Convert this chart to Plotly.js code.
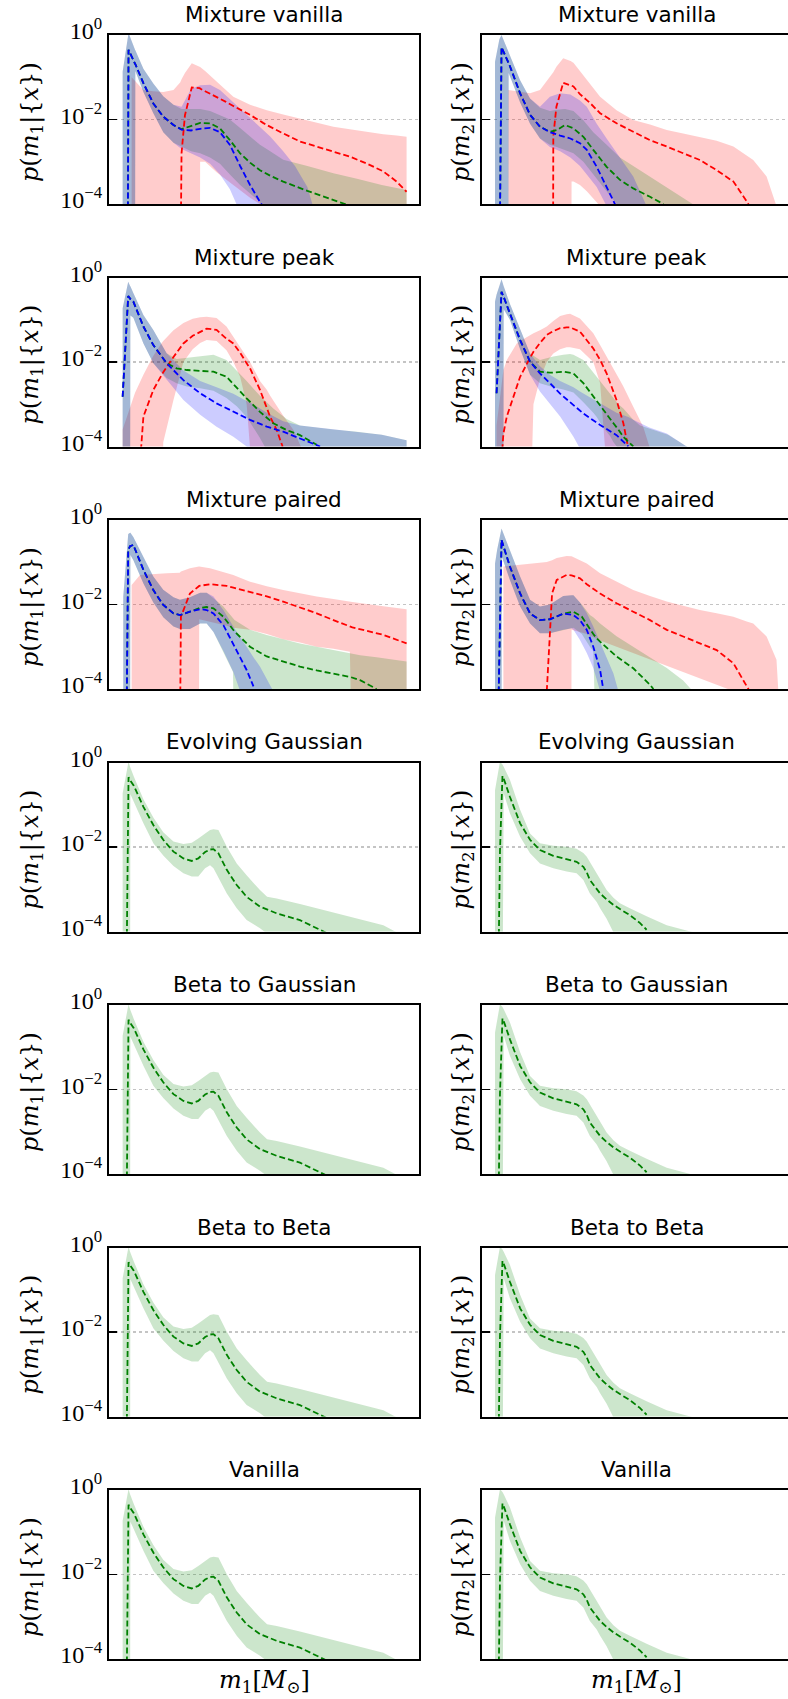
<!DOCTYPE html>
<html>
<head>
<meta charset="utf-8">
<script src="https://cdn.plot.ly/plotly-3.0.1.min.js"></script>
<style>
html, body { margin: 0; padding: 0; background: #ffffff; }
#chart { width: 788px; height: 1699px; }
</style>
</head>
<body>
<div id="chart"></div>
<script>
// ---------------- text ----------------
const panelTitles = ['Mixture vanilla', 'Mixture peak', 'Mixture paired', 'Evolving Gaussian', 'Beta to Gaussian', 'Beta to Beta', 'Vanilla'];
const yTickVals = [1e-4, 1e-2, 1];
const yTickText = ['10<sup>\u22124</sup>', '10<sup>\u22122</sup>', '10<sup>0</sup>'];
const yLabelLeft = '<i>p</i>(<i>m</i><sub>1</sub>|{<i>x</i>})';
const yLabelRight = '<i>p</i>(<i>m</i><sub>2</sub>|{<i>x</i>})';
const xLabel = '<i>m</i><sub>1</sub>[<i>M</i><sub>\u2299</sub>]';

// ---------------- data (x in solar masses, densities) ----------------
// Mixture vanilla, m1
const vanL_g_x = [4.4, 6.0, 6.3, 8.4, 8.5, 11.1, 14.3, 17.5, 20.8, 23.4, 26.5, 29.4, 32.6, 35.8, 39.0, 42.3, 45.5, 48.7, 52.0, 56.2, 64.0, 72.4, 80.0, 88.0, 96.0];
const vanL_g_med = [null, 1e-6, 0.447, 0.209, 0.204, 0.724e-1, 0.240e-1, 0.117e-1, 0.741e-2, 0.589e-2, 0.708e-2, 0.832e-2, 0.813e-2, 0.617e-2, 0.324e-2, 0.158e-2, 0.955e-3, 0.631e-3, 0.468e-3, 0.339e-3, 0.204e-3, 0.123e-3, 0.794e-4, null, null];
const vanL_g_hi = [0.135, 0.794, 1.12, 0.447, 0.437, 0.158, 0.708e-1, 0.355e-1, 0.224e-1, 0.178e-1, 0.178e-1, 0.178e-1, 0.158e-1, 0.126e-1, 0.1e-1, 0.631e-2, 0.398e-2, 0.251e-2, 0.178e-2, 0.112e-2, 0.794e-3, 0.537e-3, 0.398e-3, 0.282e-3, 0.214e-3];
const vanL_g_lo = [1e-6, 1e-6, 1e-6, 1e-6, 0.141, 0.447e-1, 0.141e-1, 0.501e-2, 0.282e-2, 0.224e-2, 0.178e-2, 0.158e-2, 0.126e-2, 0.891e-3, 0.501e-3, 0.282e-3, 0.178e-3, 0.112e-3, 1e-6, 1e-6, 1e-6, 1e-6, 1e-6, 1e-6, 1e-6];

const vanL_b_x = [4.4, 6.0, 6.3, 8.4, 8.5, 11.1, 14.3, 17.5, 20.8, 23.4, 26.5, 29.4, 32.6, 35.8, 39.0, 42.3, 45.5, 48.7, 52.0, 56.2, 60.0, 64.0, 66.0];
const vanL_b_med = [null, 1e-6, 0.447, 0.209, 0.204, 0.724e-1, 0.240e-1, 0.117e-1, 0.741e-2, 0.575e-2, 0.550e-2, 0.603e-2, 0.631e-2, 0.501e-2, 0.251e-2, 0.794e-3, 0.282e-3, 0.112e-3, 0.501e-4, null, null, null, null];
const vanL_b_hi = [0.135, 0.794, 1.12, 0.447, 0.437, 0.158, 0.708e-1, 0.355e-1, 0.224e-1, 0.2e-1, 0.537e-1, 0.646e-1, 0.661e-1, 0.501e-1, 0.302e-1, 0.178e-1, 0.112e-1, 0.676e-2, 0.398e-2, 0.178e-2, 0.794e-3, 0.251e-3, 0.794e-4];
const vanL_b_lo = [1e-6, 1e-6, 1e-6, 1e-6, 0.141, 0.447e-1, 0.141e-1, 0.501e-2, 0.282e-2, 0.2e-2, 0.158e-2, 0.126e-2, 0.891e-3, 0.501e-3, 0.224e-3, 0.631e-4, 1e-6, 1e-6, 1e-6, 1e-6, 1e-6, 1e-6, 1e-6];

const vanL_r_x = [7.3, 11.1, 14.3, 17.5, 20.8, 23.0, 23.4, 24.5, 26.7, 29.3, 29.4, 31.0, 34.7, 37.4, 40.1, 45.5, 49.7, 50.9, 56.2, 61.6, 67.0, 72.4, 77.7, 83.1, 88.5, 92.8, 96.0];
const vanL_r_med = [null, null, null, null, null, 1e-6, 0.158e-2, 0.126e-1, 0.575e-1, 0.550e-1, 0.537e-1, 0.468e-1, 0.347e-1, 0.269e-1, 0.209e-1, 0.129e-1, 0.832e-2, 0.741e-2, 0.468e-2, 0.302e-2, 0.229e-2, 0.174e-2, 0.132e-2, 0.912e-3, 0.589e-3, 0.339e-3, 0.195e-3];
const vanL_r_hi = [0.1, 0.501e-1, 0.468e-1, 0.447e-1, 0.501e-1, 0.759e-1, 0.891e-1, 0.126, 0.214, 0.178, 0.174, 0.141, 0.794e-1, 0.501e-1, 0.347e-1, 0.224e-1, 0.174e-1, 0.166e-1, 0.132e-1, 0.107e-1, 0.832e-2, 0.676e-2, 0.589e-2, 0.513e-2, 0.447e-2, 0.417e-2, 0.389e-2];
const vanL_r_lo = [1e-6, 1e-6, 1e-6, 1e-6, 1e-6, 1e-6, 1e-6, 1e-6, 1e-6, 1e-6, 1e-3, 1e-3, 0.562e-3, 0.407e-3, 0.282e-3, 0.141e-3, 0.891e-4, 1e-6, 1e-6, 1e-6, 1e-6, 1e-6, 1e-6, 1e-6, 1e-6, 1e-6, 1e-6];

// Mixture vanilla, m2
const vanR_g_x = [4.2, 5.6, 6.3, 8.5, 8.6, 12.3, 15.5, 18.7, 21.9, 24.1, 26.8, 29.5, 32.7, 35.9, 40.2, 44.5, 48.8, 54.2, 58.5, 65.0, 69.0];
const vanR_g_med = [null, 1e-6, 0.513, 0.224, 0.219, 0.417e-1, 0.129e-1, 0.676e-2, 0.513e-2, 0.562e-2, 0.741e-2, 0.617e-2, 0.389e-2, 0.191e-2, 0.759e-3, 0.372e-3, 0.234e-3, 0.148e-3, 1e-4, null, null];
const vanR_g_hi = [0.234, 0.794, 1.0, 0.398, 0.389, 0.851e-1, 0.316e-1, 0.191e-1, 0.158e-1, 0.170e-1, 0.178e-1, 0.158e-1, 0.955e-2, 0.501e-2, 0.251e-2, 0.126e-2, 0.794e-3, 0.447e-3, 0.282e-3, 0.141e-3, 0.891e-4];
const vanR_g_lo = [1e-6, 1e-6, 1e-6, 1e-6, 0.126, 0.251e-1, 0.794e-2, 0.355e-2, 0.251e-2, 0.224e-2, 0.191e-2, 0.158e-2, 1e-3, 0.501e-3, 0.2e-3, 0.794e-4, 1e-6, 1e-6, 1e-6, 1e-6, 1e-6];

const vanR_b_x = [4.2, 5.6, 6.3, 8.5, 8.6, 12.3, 15.5, 18.7, 21.9, 25.2, 28.5, 31.6, 33.8, 37.0, 40.2, 43.0, 45.0, 48.8, 53.1];
const vanR_b_med = [null, 1e-6, 0.513, 0.224, 0.219, 0.417e-1, 0.129e-1, 0.676e-2, 0.501e-2, 0.417e-2, 0.355e-2, 0.275e-2, 0.191e-2, 0.759e-3, 0.257e-3, 0.955e-4, null, null, null];
const vanR_b_hi = [0.234, 0.794, 1.0, 0.398, 0.389, 0.851e-1, 0.316e-1, 0.2e-1, 0.347e-1, 0.417e-1, 0.389e-1, 0.282e-1, 0.2e-1, 0.794e-2, 0.355e-2, 0.174e-2, 0.112e-2, 0.447e-3, 0.891e-4];
const vanR_b_lo = [1e-6, 1e-6, 1e-6, 1e-6, 0.126, 0.251e-1, 0.794e-2, 0.355e-2, 0.224e-2, 0.178e-2, 0.126e-2, 0.794e-3, 0.501e-3, 0.251e-3, 0.891e-4, 1e-6, 1e-6, 1e-6, 1e-6];

const vanR_r_x = [8.5, 12.3, 15.5, 18.7, 21.9, 22.9, 23.0, 24.0, 26.2, 28.8, 28.9, 29.5, 31.6, 33.8, 35.0, 38.1, 43.4, 48.8, 54.2, 59.6, 64.9, 70.3, 75.7, 81.1, 85.4, 87.5, 91.8, 95.0];
const vanR_r_med = [null, null, null, null, null, 1e-6, 0.398e-2, 0.2e-1, 0.741e-1, 0.631e-1, 0.631e-1, 0.603e-1, 0.398e-1, 0.288e-1, 0.240e-1, 0.141e-1, 0.813e-2, 0.513e-2, 0.324e-2, 0.229e-2, 0.158e-2, 0.110e-2, 0.631e-3, 0.339e-3, 0.115e-3, 0.631e-4, null, null];
const vanR_r_hi = [0.501e-1, 0.447e-1, 0.417e-1, 0.501e-1, 0.1, 0.126, 0.132, 0.178, 0.282, 0.240, 0.234, 0.219, 0.141, 0.891e-1, 0.708e-1, 0.347e-1, 0.166e-1, 0.977e-2, 0.759e-2, 0.562e-2, 0.468e-2, 0.389e-2, 0.316e-2, 0.229e-2, 0.141e-2, 0.110e-2, 0.447e-3, 0.891e-4];
const vanR_r_lo = [1e-6, 1e-6, 1e-6, 1e-6, 1e-6, 1e-6, 1e-6, 1e-6, 1e-6, 1e-6, 0.339e-3, 0.339e-3, 0.282e-3, 0.2e-3, 0.158e-3, 0.891e-4, 1e-6, 1e-6, 1e-6, 1e-6, 1e-6, 1e-6, 1e-6, 1e-6, 1e-6, 1e-6, 1e-6, 1e-6];

// Mixture peak, m1
const peakL_b_x = [4.4, 6.2, 6.8, 6.9, 7.85, 11.1, 14.3, 18.6, 24.0, 29.4, 34.7, 40.1, 44.4, 45.5, 50.9, 56.2, 61.6, 68.1, 72.4, 80.0, 88.0, 96.0];
const peakL_b_med = [0.151e-2, 0.363, 0.316, 0.309, 0.269, 0.692e-1, 0.251e-1, 0.933e-2, 0.372e-2, 0.182e-2, 0.105e-2, 0.661e-3, 0.457e-3, 0.427e-3, 0.295e-3, 0.224e-3, 0.155e-3, 1e-4, null, null, null, null];
const peakL_b_hi = [0.186, 0.794, 0.631, 0.617, 0.427, 0.129, 0.575e-1, 0.162e-1, 0.631e-2, 0.355e-2, 0.251e-2, 0.178e-2, 0.120e-2, 0.112e-2, 0.631e-3, 0.398e-3, 0.316e-3, 0.282e-3, 0.251e-3, 0.224e-3, 0.191e-3, 0.141e-3];
const peakL_b_lo = [1e-6, 1e-6, 1e-6, 0.126, 0.112, 0.275e-1, 0.933e-2, 0.372e-2, 0.126e-2, 0.562e-3, 0.295e-3, 0.170e-3, 1e-4, 1e-6, 1e-6, 1e-6, 1e-6, 1e-6, 1e-6, 1e-6, 1e-6, 1e-6];

const peakL_g_x = [4.4, 6.2, 6.8, 6.9, 7.85, 11.1, 14.3, 18.6, 21.8, 25.1, 29.4, 33.7, 37.9, 41.2, 44.4, 48.7, 51.0, 53.0, 57.3, 61.6, 67.0, 72.4, 80.0, 88.0, 96.0];
const peakL_g_med = [0.151e-2, 0.363, 0.316, 0.309, 0.269, 0.692e-1, 0.251e-1, 0.933e-2, 0.708e-2, 0.646e-2, 0.617e-2, 0.589e-2, 0.447e-2, 0.240e-2, 0.138e-2, 0.661e-3, 0.468e-3, 0.355e-3, 0.245e-3, 0.186e-3, 0.110e-3, null, null, null, null];
const peakL_g_hi = [0.186, 0.794, 0.631, 0.617, 0.427, 0.129, 0.575e-1, 0.162e-1, 0.117e-1, 0.126e-1, 0.138e-1, 0.148e-1, 0.112e-1, 0.631e-2, 0.355e-2, 0.158e-2, 0.112e-2, 0.794e-3, 0.447e-3, 0.316e-3, 0.282e-3, 0.251e-3, 0.224e-3, 0.191e-3, 0.141e-3];
const peakL_g_lo = [1e-6, 1e-6, 1e-6, 0.126, 0.112, 0.275e-1, 0.933e-2, 0.417e-2, 0.316e-2, 0.263e-2, 0.240e-2, 0.209e-2, 0.141e-2, 0.891e-3, 0.501e-3, 0.158e-3, 0.794e-4, 1e-6, 1e-6, 1e-6, 1e-6, 1e-6, 1e-6, 1e-6, 1e-6];

const peakL_r_x = [4.4, 8.4, 11.1, 14.3, 17.0, 17.5, 20.8, 24.0, 27.0, 29.4, 31.5, 34.7, 37.9, 40.1, 42.3, 44.4, 45.5, 48.7, 50.9, 52.0, 54.1, 56.0, 59.5, 62.2];
const peakL_r_med = [null, 1e-6, 0.513e-3, 0.219e-2, 0.501e-2, 0.575e-2, 0.132e-1, 0.275e-1, 0.417e-1, 0.525e-1, 0.617e-1, 0.575e-1, 0.355e-1, 0.275e-1, 0.166e-1, 0.933e-2, 0.708e-2, 0.219e-2, 0.871e-3, 0.501e-3, 0.245e-3, 1e-4, null, null];
const peakL_r_hi = [0.251e-3, 0.186e-2, 0.501e-2, 0.141e-1, 0.282e-1, 0.316e-1, 0.562e-1, 0.832e-1, 0.105, 0.115, 0.117, 0.110, 0.692e-1, 0.398e-1, 0.229e-1, 0.126e-1, 0.1e-1, 0.355e-2, 0.219e-2, 0.158e-2, 0.891e-3, 0.562e-3, 0.245e-3, 0.891e-4];
const peakL_r_lo = [1e-6, 1e-6, 1e-6, 1e-6, 1e-6, 0.126e-3, 0.126e-2, 0.1e-1, 0.2e-1, 0.282e-1, 0.331e-1, 0.316e-1, 0.191e-1, 0.1e-1, 0.447e-2, 1e-3, 0.891e-4, 1e-6, 1e-6, 1e-6, 1e-6, 1e-6, 1e-6, 1e-6];

// Mixture peak, m2
const peakR_b_x = [4.2, 4.7, 6.3, 6.9, 7.0, 9.0, 12.3, 15.5, 18.7, 21.9, 25.2, 29.5, 31.6, 32.7, 38.1, 43.4, 47.2, 48.8, 54.0, 59.6, 67.1];
const peakR_b_med = [null, 0.182e-2, 0.457, 0.355, 0.347, 0.141, 0.331e-1, 0.102e-1, 0.537e-2, 0.316e-2, 0.178e-2, 0.955e-3, 0.708e-3, 0.603e-3, 0.324e-3, 0.186e-3, 1e-4, null, null, null, null];
const peakR_b_hi = [0.269, 0.398, 0.912, 0.631, 0.617, 0.240, 0.575e-1, 0.158e-1, 0.794e-2, 0.501e-2, 0.355e-2, 0.251e-2, 0.2e-2, 0.178e-2, 0.105e-2, 0.631e-3, 0.501e-3, 0.427e-3, 0.282e-3, 0.204e-3, 0.891e-4];
const peakR_b_lo = [1e-6, 1e-6, 1e-6, 1e-6, 0.178, 0.1, 0.2e-1, 0.501e-2, 0.2e-2, 1e-3, 0.513e-3, 0.170e-3, 0.891e-4, 1e-6, 1e-6, 1e-6, 1e-6, 1e-6, 1e-6, 1e-6, 1e-6];

const peakR_g_x = [4.2, 4.7, 6.3, 6.9, 7.0, 9.0, 12.3, 15.5, 18.7, 21.9, 23.0, 26.2, 28.4, 29.5, 32.7, 35.9, 37.0, 39.1, 41.3, 42.4, 44.0, 45.6, 46.7, 48.8, 51.0, 55.0, 60.0, 67.1];
const peakR_g_med = [null, 0.182e-2, 0.457, 0.355, 0.347, 0.141, 0.331e-1, 0.102e-1, 0.589e-2, 0.562e-2, 0.562e-2, 0.589e-2, 0.562e-2, 0.537e-2, 0.316e-2, 0.151e-2, 0.120e-2, 0.724e-3, 0.447e-3, 0.355e-3, 0.251e-3, 0.170e-3, 0.141e-3, 1e-4, null, null, null, null];
const peakR_g_hi = [0.269, 0.398, 0.912, 0.631, 0.617, 0.240, 0.575e-1, 0.158e-1, 0.112e-1, 0.132e-1, 0.135e-1, 0.148e-1, 0.155e-1, 0.148e-1, 0.112e-1, 0.562e-2, 0.447e-2, 0.282e-2, 0.178e-2, 0.141e-2, 1e-3, 0.794e-3, 0.631e-3, 0.427e-3, 0.316e-3, 0.251e-3, 0.191e-3, 0.891e-4];
const peakR_g_lo = [1e-6, 1e-6, 1e-6, 1e-6, 0.178, 0.1, 0.2e-1, 0.501e-2, 0.316e-2, 0.269e-2, 0.251e-2, 0.224e-2, 0.2e-2, 0.191e-2, 0.112e-2, 0.631e-3, 0.501e-3, 0.282e-3, 0.178e-3, 0.126e-3, 0.891e-4, 1e-6, 1e-6, 1e-6, 1e-6, 1e-6, 1e-6, 1e-6];

const peakR_r_x = [4.7, 6.9, 8.0, 11.2, 12.3, 15.5, 16.6, 18.7, 20.9, 23.0, 25.2, 27.3, 28.4, 31.6, 35.9, 38.1, 39.7, 40.2, 43.4, 44.5, 45.6, 47.2, 48.8, 52.0, 54.2];
const peakR_r_med = [1e-6, 0.2e-3, 0.513e-3, 0.282e-2, 0.447e-2, 0.126e-1, 0.174e-1, 0.282e-1, 0.437e-1, 0.537e-1, 0.631e-1, 0.661e-1, 0.661e-1, 0.525e-1, 0.209e-1, 0.112e-1, 0.631e-2, 0.537e-2, 0.126e-2, 0.708e-3, 0.355e-3, 0.891e-4, null, null, null];
const peakR_r_hi = [0.316e-3, 0.646e-2, 0.112e-1, 0.275e-1, 0.316e-1, 0.437e-1, 0.479e-1, 0.562e-1, 0.692e-1, 0.933e-1, 0.123, 0.135, 0.138, 0.107, 0.479e-1, 0.251e-1, 0.158e-1, 0.135e-1, 0.525e-2, 0.372e-2, 0.263e-2, 0.158e-2, 0.871e-3, 0.295e-3, 0.891e-4];
const peakR_r_lo = [1e-6, 1e-6, 1e-6, 1e-6, 1e-6, 1e-6, 1e-3, 0.398e-2, 0.1e-1, 0.158e-1, 0.2e-1, 0.224e-1, 0.224e-1, 0.2e-1, 0.1e-1, 0.316e-2, 0.891e-4, 1e-6, 1e-6, 1e-6, 1e-6, 1e-6, 1e-6, 1e-6, 1e-6];

// Mixture paired, m1
const pairL_b_x = [4.6, 5.5, 6.2, 6.8, 6.9, 7.85, 11.1, 14.3, 17.5, 20.8, 22.9, 26.1, 29.4, 31.5, 33.7, 36.9, 40.1, 42.3, 44.4, 46.6, 48.7, 53.0];
const pairL_b_med = [null, 1e-6, 0.195, 0.240, 0.240, 0.257, 0.661e-1, 0.219e-1, 0.977e-2, 0.617e-2, 0.562e-2, 0.676e-2, 0.776e-2, 0.741e-2, 0.617e-2, 0.324e-2, 0.120e-2, 0.562e-3, 0.282e-3, 0.115e-3, null, null];
const pairL_b_hi = [0.155e-1, 0.1, 0.468, 0.501, 0.501, 0.398, 0.135, 0.457e-1, 0.224e-1, 0.148e-1, 0.129e-1, 0.148e-1, 0.191e-1, 0.191e-1, 0.155e-1, 0.741e-2, 0.302e-2, 0.166e-2, 1e-3, 0.562e-3, 0.339e-3, 0.891e-4];
const pairL_b_lo = [1e-6, 1e-6, 1e-6, 1e-6, 0.148, 0.112, 0.316e-1, 0.112e-1, 0.501e-2, 0.302e-2, 0.263e-2, 0.263e-2, 0.355e-2, 0.355e-2, 0.224e-2, 0.794e-3, 0.251e-3, 0.891e-4, 1e-6, 1e-6, 1e-6, 1e-6];

const pairL_g_x = [4.6, 5.5, 6.2, 6.8, 6.9, 7.85, 11.1, 14.3, 17.5, 20.8, 22.9, 26.1, 29.4, 31.5, 33.7, 36.9, 38.0, 40.0, 40.5, 42.3, 45.5, 50.9, 56.2, 61.6, 67.0, 72.4, 78.0, 81.0, 86.3, 88.5, 96.0];
const pairL_g_med = [null, 1e-6, 0.195, 0.240, 0.240, 0.257, 0.661e-1, 0.219e-1, 0.977e-2, 0.617e-2, 0.562e-2, 0.676e-2, 0.832e-2, 0.871e-2, 0.813e-2, 0.513e-2, 0.398e-2, 0.251e-2, 0.229e-2, 0.170e-2, 1e-3, 0.589e-3, 0.447e-3, 0.339e-3, 0.275e-3, 0.234e-3, 0.191e-3, 0.162e-3, 1e-4, null, null];
const pairL_g_hi = [0.155e-1, 0.1, 0.468, 0.501, 0.501, 0.398, 0.135, 0.457e-1, 0.224e-1, 0.148e-1, 0.129e-1, 0.148e-1, 0.191e-1, 0.191e-1, 0.141e-1, 0.891e-2, 0.708e-2, 0.468e-2, 0.427e-2, 0.355e-2, 0.251e-2, 0.191e-2, 0.151e-2, 0.120e-2, 1e-3, 0.832e-3, 0.708e-3, 0.631e-3, 0.562e-3, 0.537e-3, 0.447e-3];
const pairL_g_lo = [1e-6, 1e-6, 1e-6, 1e-6, 0.148, 0.112, 0.316e-1, 0.112e-1, 0.501e-2, 0.302e-2, 0.263e-2, 0.263e-2, 0.355e-2, 0.355e-2, 0.224e-2, 0.794e-3, 0.501e-3, 0.251e-3, 1e-6, 1e-6, 1e-6, 1e-6, 1e-6, 1e-6, 1e-6, 1e-6, 1e-6, 1e-6, 1e-6, 1e-6, 1e-6];

const pairL_r_x = [7.3, 10.0, 18.6, 22.8, 23.2, 26.1, 29.0, 29.1, 32.6, 38.0, 40.1, 45.5, 50.9, 56.2, 61.6, 67.0, 72.4, 77.7, 78.5, 88.5, 96.0];
const pairL_r_med = [null, null, null, 1e-6, 0.513e-2, 0.182e-1, 0.269e-1, 0.275e-1, 0.302e-1, 0.275e-1, 0.251e-1, 0.2e-1, 0.155e-1, 0.117e-1, 0.851e-2, 0.617e-2, 0.427e-2, 0.302e-2, 0.288e-2, 0.191e-2, 0.120e-2];
const pairL_r_hi = [0.288e-1, 0.501e-1, 0.550e-1, 0.562e-1, 0.603e-1, 0.724e-1, 0.794e-1, 0.794e-1, 0.724e-1, 0.562e-1, 0.501e-1, 0.347e-1, 0.269e-1, 0.219e-1, 0.182e-1, 0.155e-1, 0.135e-1, 0.117e-1, 0.115e-1, 0.912e-2, 0.776e-2];
const pairL_r_lo = [1e-6, 1e-6, 1e-6, 1e-6, 1e-6, 1e-6, 1e-6, 0.447e-2, 0.398e-2, 0.316e-2, 0.282e-2, 0.251e-2, 0.2e-2, 0.151e-2, 0.126e-2, 1e-3, 0.891e-3, 0.759e-3, 1e-6, 1e-6, 1e-6];

// Mixture paired, m2
const pairR_b_x = [4.2, 4.9, 6.3, 6.4, 9.0, 12.3, 15.5, 18.7, 21.9, 26.2, 28.9, 29.5, 31.6, 33.8, 35.9, 38.1, 39.1, 42.4, 44.0];
const pairR_b_med = [null, 1e-6, 0.339, 0.316, 0.794e-1, 0.182e-1, 0.617e-2, 0.427e-2, 0.447e-2, 0.603e-2, 0.575e-2, 0.562e-2, 0.427e-2, 0.251e-2, 1e-3, 0.282e-3, 1e-4, null, null];
const pairR_b_hi = [0.933e-1, 0.2, 0.631, 0.603, 0.195, 0.457e-1, 0.129e-1, 0.891e-2, 0.1e-1, 0.158e-1, 0.166e-1, 0.166e-1, 0.112e-1, 0.631e-2, 0.302e-2, 0.126e-2, 0.832e-3, 0.234e-3, 0.891e-4];
const pairR_b_lo = [1e-6, 1e-6, 1e-6, 0.135, 0.380e-1, 0.891e-2, 0.355e-2, 0.209e-2, 0.209e-2, 0.251e-2, 0.275e-2, 0.251e-2, 0.145e-2, 0.708e-3, 0.316e-3, 0.891e-4, 1e-6, 1e-6, 1e-6];

const pairR_g_x = [4.2, 4.9, 6.3, 6.4, 9.0, 12.3, 15.5, 18.7, 21.9, 26.2, 28.9, 29.5, 32.2, 34.8, 35.9, 37.0, 38.1, 43.4, 48.8, 54.2, 55.3, 59.6, 64.9, 68.0];
const pairR_g_med = [null, 1e-6, 0.339, 0.316, 0.794e-1, 0.182e-1, 0.617e-2, 0.427e-2, 0.447e-2, 0.603e-2, 0.661e-2, 0.676e-2, 0.513e-2, 0.251e-2, 0.2e-2, 0.158e-2, 0.132e-2, 0.589e-3, 0.309e-3, 0.126e-3, 1e-4, null, null, null];
const pairR_g_hi = [0.933e-1, 0.2, 0.631, 0.603, 0.195, 0.457e-1, 0.129e-1, 0.891e-2, 0.1e-1, 0.158e-1, 0.166e-1, 0.166e-1, 0.1e-1, 0.562e-2, 0.501e-2, 0.417e-2, 0.355e-2, 0.178e-2, 1e-3, 0.562e-3, 0.501e-3, 0.316e-3, 0.158e-3, 0.891e-4];
const pairR_g_lo = [1e-6, 1e-6, 1e-6, 0.135, 0.380e-1, 0.891e-2, 0.355e-2, 0.209e-2, 0.209e-2, 0.251e-2, 0.275e-2, 0.282e-2, 0.2e-2, 1e-3, 0.794e-3, 1e-6, 1e-6, 1e-6, 1e-6, 1e-6, 1e-6, 1e-6, 1e-6, 1e-6];

const pairR_r_x = [6.9, 11.2, 16.6, 20.9, 22.6, 24.1, 27.3, 28.8, 28.9, 31.6, 33.8, 38.1, 43.4, 48.8, 54.2, 59.6, 64.9, 70.3, 75.7, 81.1, 85.4, 87.5, 91.8, 95.0, 95.6];
const pairR_r_med = [null, null, null, 0.891e-4, 0.182e-1, 0.380e-1, 0.501e-1, 0.490e-1, 0.490e-1, 0.417e-1, 0.302e-1, 0.182e-1, 0.107e-1, 0.676e-2, 0.427e-2, 0.251e-2, 0.174e-2, 0.120e-2, 0.832e-3, 0.407e-3, 0.115e-3, 0.631e-4, null, null, null];
const pairR_r_hi = [0.794e-1, 0.851e-1, 0.933e-1, 0.102, 0.112, 0.126, 0.141, 0.138, 0.138, 0.112, 0.933e-1, 0.550e-1, 0.355e-1, 0.219e-1, 0.158e-1, 0.117e-1, 0.933e-2, 0.741e-2, 0.617e-2, 0.513e-2, 0.398e-2, 0.355e-2, 0.174e-2, 0.490e-3, 0.891e-4];
const pairR_r_lo = [1e-6, 1e-6, 1e-6, 1e-6, 1e-6, 1e-6, 1e-6, 1e-6, 0.251e-2, 0.224e-2, 0.2e-2, 0.141e-2, 1e-3, 0.708e-3, 0.501e-3, 0.355e-3, 0.251e-3, 0.178e-3, 0.126e-3, 0.891e-4, 1e-6, 1e-6, 1e-6, 1e-6, 1e-6];

// Single-population models (Evolving Gaussian, Beta to Gaussian, Beta to Beta, Vanilla), m1
const singleL_x = [4.4, 5.5, 6.3, 6.8, 6.9, 8.0, 11.1, 14.3, 17.5, 20.8, 24.0, 26.7, 28.8, 31.0, 32.6, 33.7, 35.3, 38.0, 41.2, 44.4, 48.7, 51.0, 54.1, 61.6, 68.1, 72.0, 77.7, 88.5, 92.8];
const singleL_med = [null, 1e-6, 0.447, 0.380, 0.372, 0.282, 0.891e-1, 0.331e-1, 0.148e-1, 0.776e-2, 0.537e-2, 0.468e-2, 0.537e-2, 0.759e-2, 0.871e-2, 0.891e-2, 0.708e-2, 0.288e-2, 0.126e-2, 0.661e-3, 0.389e-3, 0.331e-3, 0.269e-3, 0.186e-3, 0.110e-3, 0.794e-4, null, null, null];
const singleL_hi = [0.186, 0.537, 1.05, 0.794, 0.759, 0.468, 0.135, 0.501e-1, 0.224e-1, 0.135e-1, 0.117e-1, 0.126e-1, 0.158e-1, 0.209e-1, 0.251e-1, 0.263e-1, 0.251e-1, 0.102e-1, 0.407e-2, 0.214e-2, 0.955e-3, 0.661e-3, 0.603e-3, 0.447e-3, 0.339e-3, 0.282e-3, 0.224e-3, 0.141e-3, 0.955e-4];
const singleL_lo = [1e-6, 1e-6, 1e-6, 1e-6, 0.178, 0.112, 0.363e-1, 0.123e-1, 0.631e-2, 0.355e-2, 0.240e-2, 0.2e-2, 0.2e-2, 0.316e-2, 0.372e-2, 0.316e-2, 0.2e-2, 0.794e-3, 0.355e-3, 0.186e-3, 0.120e-3, 0.891e-4, 1e-6, 1e-6, 1e-6, 1e-6, 1e-6, 1e-6, 1e-6];

// Single-population models, m2
const singleR_x = [4.2, 5.1, 5.8, 6.6, 7.0, 9.0, 12.3, 15.5, 18.7, 23.0, 27.3, 30.5, 32.7, 33.8, 34.8, 37.0, 38.1, 40.2, 42.4, 44.5, 47.7, 51.0, 53.1, 59.6, 68.2];
const singleR_med = [null, 1e-6, 0.794e-2, 0.479, 0.417, 0.155, 0.363e-1, 0.148e-1, 0.851e-2, 0.617e-2, 0.513e-2, 0.447e-2, 0.339e-2, 0.251e-2, 0.166e-2, 1e-3, 0.794e-3, 0.575e-3, 0.427e-3, 0.339e-3, 0.245e-3, 0.158e-3, 0.110e-3, null, null];
const singleR_hi = [0.224, 0.525, 1.05, 0.891, 0.794, 0.389, 0.759e-1, 0.209e-1, 0.123e-1, 0.107e-1, 0.102e-1, 0.912e-2, 0.724e-2, 0.589e-2, 0.447e-2, 0.240e-2, 0.178e-2, 0.955e-3, 0.631e-3, 0.468e-3, 0.355e-3, 0.269e-3, 0.229e-3, 0.141e-3, 0.955e-4];
const singleR_lo = [1e-6, 1e-6, 1e-6, 1e-6, 0.186, 0.631e-1, 0.174e-1, 0.708e-2, 0.407e-2, 0.316e-2, 0.263e-2, 0.240e-2, 0.166e-2, 0.112e-2, 0.794e-3, 0.501e-3, 0.355e-3, 0.2e-3, 0.955e-4, 1e-6, 1e-6, 1e-6, 1e-6, 1e-6, 1e-6];

// ---------------- styling ----------------
const FILL = { red: 'rgba(255,0,0,0.2)', green: 'rgba(0,128,0,0.2)', blue: 'rgba(0,0,255,0.2)' };
const LINE = { red: '#ff0000', green: '#008000', blue: '#0000ff' };

function comp(c, x, m, lo, hi) { return { c: c, x: x, m: m, lo: lo, hi: hi }; }
const singleLeft = [comp('green', singleL_x, singleL_med, singleL_lo, singleL_hi)];
const singleRight = [comp('green', singleR_x, singleR_med, singleR_lo, singleR_hi)];

const panels = [
  [comp('red', vanL_r_x, vanL_r_med, vanL_r_lo, vanL_r_hi), comp('green', vanL_g_x, vanL_g_med, vanL_g_lo, vanL_g_hi), comp('blue', vanL_b_x, vanL_b_med, vanL_b_lo, vanL_b_hi)],
  [comp('red', vanR_r_x, vanR_r_med, vanR_r_lo, vanR_r_hi), comp('green', vanR_g_x, vanR_g_med, vanR_g_lo, vanR_g_hi), comp('blue', vanR_b_x, vanR_b_med, vanR_b_lo, vanR_b_hi)],
  [comp('red', peakL_r_x, peakL_r_med, peakL_r_lo, peakL_r_hi), comp('green', peakL_g_x, peakL_g_med, peakL_g_lo, peakL_g_hi), comp('blue', peakL_b_x, peakL_b_med, peakL_b_lo, peakL_b_hi)],
  [comp('red', peakR_r_x, peakR_r_med, peakR_r_lo, peakR_r_hi), comp('green', peakR_g_x, peakR_g_med, peakR_g_lo, peakR_g_hi), comp('blue', peakR_b_x, peakR_b_med, peakR_b_lo, peakR_b_hi)],
  [comp('red', pairL_r_x, pairL_r_med, pairL_r_lo, pairL_r_hi), comp('green', pairL_g_x, pairL_g_med, pairL_g_lo, pairL_g_hi), comp('blue', pairL_b_x, pairL_b_med, pairL_b_lo, pairL_b_hi)],
  [comp('red', pairR_r_x, pairR_r_med, pairR_r_lo, pairR_r_hi), comp('green', pairR_g_x, pairR_g_med, pairR_g_lo, pairR_g_hi), comp('blue', pairR_b_x, pairR_b_med, pairR_b_lo, pairR_b_hi)],
  singleLeft, singleRight,
  singleLeft, singleRight,
  singleLeft, singleRight,
  singleLeft, singleRight
];

// ---------------- layout geometry (pixels) ----------------
const FIG_W = 788, FIG_H = 1699;
const colPx = [[109, 419], [482, 788]];
const colCenter = [264, 636.5];
const colRange = [[0, 100], [0, 98.71]];
const ROW0 = 35, ROW_STEP = 242.5, PANEL_H = 169;

const traces = [];
const annotations = [];
const layout = {
  width: FIG_W, height: FIG_H,
  margin: { l: 0, r: 0, t: 0, b: 0, pad: 0 },
  paper_bgcolor: '#ffffff', plot_bgcolor: '#ffffff',
  showlegend: false
};

panels.forEach(function (comps, k) {
  const r = Math.floor(k / 2), c = k % 2;
  const sfx = k === 0 ? '' : String(k + 1);
  const xa = 'x' + sfx, ya = 'y' + sfx;
  comps.forEach(function (p) {
    traces.push({
      type: 'scatter', mode: 'lines',
      x: p.x.concat(p.x.slice().reverse()),
      y: p.hi.concat(p.lo.slice().reverse()),
      fill: 'toself', fillcolor: FILL[p.c],
      line: { width: 0, color: 'rgba(0,0,0,0)' },
      xaxis: xa, yaxis: ya, hoverinfo: 'skip', showlegend: false
    });
  });
  comps.forEach(function (p) {
    traces.push({
      type: 'scatter', mode: 'lines', x: p.x, y: p.m,
      line: { color: LINE[p.c], width: 1.8, dash: '6px,3px' },
      connectgaps: false,
      xaxis: xa, yaxis: ya, hoverinfo: 'skip', showlegend: false
    });
  });
  const top = ROW0 + ROW_STEP * r, bot = top + PANEL_H;
  layout['xaxis' + sfx] = {
    domain: [colPx[c][0] / FIG_W, colPx[c][1] / FIG_W], range: colRange[c], anchor: ya,
    showline: true, linecolor: '#000000', linewidth: 2, mirror: true,
    ticks: '', showticklabels: false, showgrid: false, zeroline: false, fixedrange: true
  };
  layout['yaxis' + sfx] = {
    type: 'log', range: [-4, 0], domain: [1 - bot / FIG_H, 1 - top / FIG_H], anchor: xa,
    showline: true, linecolor: '#000000', linewidth: 2, mirror: c === 0,
    ticks: 'inside', ticklen: 8, tickwidth: 1.5, tickcolor: '#000000',
    tickmode: 'array', tickvals: yTickVals, ticktext: yTickText,
    showticklabels: c === 0, ticklabelshift: -4,
    tickfont: { family: 'Liberation Serif', size: 24, color: '#000000' },
    showgrid: true, gridcolor: '#c4c4c4', gridwidth: 1.5, griddash: 'dot',
    zeroline: false, fixedrange: true
  };
  annotations.push({
    xref: 'paper', yref: 'paper', x: colCenter[c] / FIG_W, y: 1 - (top - 20.5) / FIG_H,
    xanchor: 'center', yanchor: 'middle', showarrow: false,
    text: panelTitles[r], font: { family: 'DejaVu Sans', size: 21.5, color: '#000000' }
  });
  annotations.push({
    xref: 'paper', yref: 'paper', x: (c === 0 ? 31 : 462) / FIG_W, y: 1 - (top + 87) / FIG_H,
    xanchor: 'center', yanchor: 'middle', showarrow: false, textangle: -90,
    text: c === 0 ? yLabelLeft : yLabelRight,
    font: { family: 'DejaVu Serif', size: 24, color: '#000000' }
  });
  if (r === 6) {
    annotations.push({
      xref: 'paper', yref: 'paper', x: colCenter[c] / FIG_W, y: 1 - 1681 / FIG_H,
      xanchor: 'center', yanchor: 'middle', showarrow: false,
      text: xLabel, font: { family: 'DejaVu Serif', size: 24, color: '#000000' }
    });
  }
});
layout.annotations = annotations;

Plotly.newPlot('chart', traces, layout, { staticPlot: true, displayModeBar: false });
</script>
</body>
</html>
